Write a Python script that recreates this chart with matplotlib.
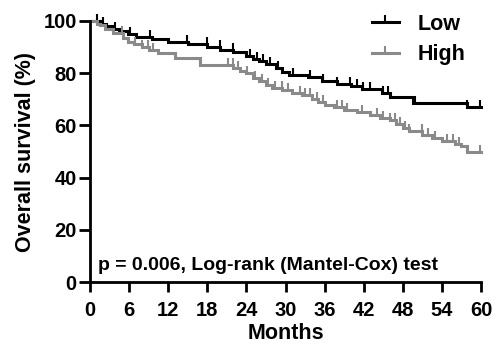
import numpy as np
import matplotlib
matplotlib.use('Agg')
import matplotlib.pyplot as plt
from matplotlib.lines import Line2D

''' Data '''
# Low group: step times (months) and survival (%)
low_t = [0, 1.5, 2.5, 3.5, 4.5, 5.8, 7, 9.5, 12, 15, 18, 20, 22, 24, 25, 26, 27,
         28.5, 29.5, 30.5, 33.5, 35.6, 37.9, 40, 41.7, 44.8, 46, 49.5, 57.8, 60]
low_s = [100, 99, 98, 97, 96, 95, 94, 93, 92, 91, 90, 89, 88, 86.5, 85.5, 84.5, 83.5,
         82, 80.5, 79.5, 78.5, 77, 76, 75, 74, 72.5, 71, 68.5, 67.2, 67.2]
low_cens = [1.1, 2.0, 3.8, 6.1, 9.2, 14.9, 17.9, 19.9, 21.9, 24.5, 25.6, 26.5, 27.6,
            28.8, 31.1, 33.7, 35.7, 37.9, 39.9, 40.9, 41.9, 42.9, 44.9, 45.7, 49.8,
            57.8, 59.8]

# High group
high_t = [0, 1, 1.5, 2.3, 3.5, 5, 5.8, 6.8, 8, 9, 10.5, 13, 16.9, 22, 23, 24, 25,
          26, 27, 28, 29.5, 31, 32.5, 34, 35, 36, 37.5, 39, 41, 43, 44.5, 46, 47,
          48, 49, 51, 52.5, 54, 56, 57, 57.8, 60]
high_s = [100, 99, 98.5, 97, 95.5, 93.5, 92, 91, 90, 89, 87.7, 86, 83, 82, 81, 80,
          78, 77, 75.5, 74.5, 73.5, 72.5, 71.5, 70, 69, 68, 67, 66, 65, 64, 63, 62,
          60.5, 59, 58, 56.5, 55, 54, 53, 52, 50, 50]
high_cens = [4.9, 6.9, 8.0, 8.9, 9.7, 16.9, 21.2, 21.9, 22.7, 24.1, 25.3, 26.4, 27.3,
             28.4, 29.4, 30.4, 32.2, 33.0, 33.7, 34.8, 35.7, 37.9, 38.7, 39.4, 41.7,
             44.0, 45.0, 46.0, 46.8, 47.5, 48.3, 49.0, 50.9, 51.8, 52.9, 54.8, 55.7,
             56.7, 57.8, 59.8]

labels = ['Low', 'High']
colors = ['#000000', '#8a8a8a']
xticks = np.arange(0, 61, 6)
yticks = np.arange(0, 101, 20)

''' Plot '''
plt.rcParams['font.family'] = ['Liberation Sans', 'DejaVu Sans']
plt.rcParams['font.weight'] = 'bold'

fig = plt.figure(figsize=(4.92, 3.43), dpi=100)
ax = fig.add_axes([90 / 492, 61 / 343, 391 / 492, 261 / 343])

def step_at(t, s, x):
    idx = np.searchsorted(t, x, side='right') - 1
    return np.asarray(s)[idx]

for t, s, cens, c in [(low_t, low_s, low_cens, colors[0]),
                      (high_t, high_s, high_cens, colors[1])]:
    ax.plot(t, s, drawstyle='steps-post', color=c, lw=2.2, clip_on=False,
            solid_joinstyle='miter')
    ax.plot(cens, step_at(t, s, cens), ls='none', marker=2, markersize=5,
            markeredgewidth=1.5, color=c, clip_on=False)

ax.set_xlim(0, 60)
ax.set_ylim(0, 100)
ax.set_xticks(xticks)
ax.set_yticks(yticks)
for side in ['top', 'right']:
    ax.spines[side].set_visible(False)
for side in ['left', 'bottom']:
    ax.spines[side].set_linewidth(2.0)
ax.tick_params(axis='x', width=2.0, length=7.5, labelsize=14.5, pad=6.5)
ax.tick_params(axis='y', width=2.0, length=8, labelsize=14.5, pad=1.5)
ax.set_xlabel('Months', fontsize=15.5, fontweight='bold', labelpad=2)
ax.set_ylabel('Overall survival (%)', fontsize=15.5, fontweight='bold', labelpad=5)

ax.text(1.2, 4.6, 'p = 0.006, Log-rank (Mantel-Cox) test', fontsize=14,
        fontweight='bold', va='baseline', ha='left')

handles = [Line2D([], [], color=c, lw=2.2, marker=2, markersize=5,
                  markeredgewidth=1.5) for c in colors]
fig.legend(handles, labels, loc='upper left', bbox_to_anchor=(372 / 492, 1 - 14 / 343),
           frameon=False, fontsize=15.5, handlelength=1.25, handletextpad=0.85,
           labelspacing=0.42, numpoints=1, borderpad=0, borderaxespad=0)

fig.savefig('out.png', dpi=100)
